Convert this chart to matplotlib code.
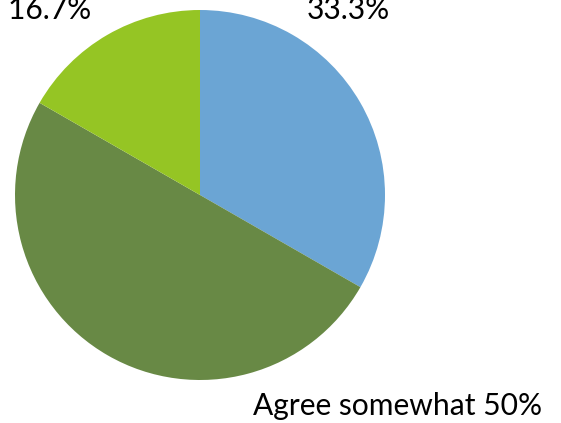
import matplotlib
matplotlib.use('Agg')
import matplotlib.pyplot as plt

# Survey response shares
categories = ['Agree strongly', 'Agree somewhat', 'Neutral']
shares = [33.3, 50.0, 16.7]
colors = ['#6BA5D4', '#688945', '#95C524']

plt.rcParams['font.family'] = ['Lato', 'DejaVu Sans']

W, H = 561, 423
fig = plt.figure(figsize=(W / 100, H / 100), dpi=100)

# Pie centred at (200, 195) px with a 185 px radius
cx, cy, r = 200, 195, 185
ax = fig.add_axes([(cx - r) / W, (H - cy - r) / H, 2 * r / W, 2 * r / H])
ax.pie(shares, colors=colors, startangle=90, counterclock=False,
       radius=1.0, wedgeprops=dict(linewidth=0))
ax.set_xlim(-1, 1)
ax.set_ylim(-1, 1)
ax.set_aspect('auto')
ax.axis('off')

# Data labels (the top one wraps onto two lines)
fs = 21.6
fig.text(348 / W, (H - 19) / H, f'{categories[0]}\n{shares[0]:.1f}%',
         ha='center', va='baseline', fontsize=fs, linespacing=1.1)
fig.text(253 / W, (H - 415) / H, f'{categories[1]} {shares[1]:.0f}%',
         ha='left', va='baseline', fontsize=fs)
fig.text(91 / W, (H - 19) / H, f'{categories[2]} {shares[2]:.1f}%',
         ha='right', va='baseline', fontsize=fs)

fig.savefig('out.png', dpi=100)
plt.close(fig)
